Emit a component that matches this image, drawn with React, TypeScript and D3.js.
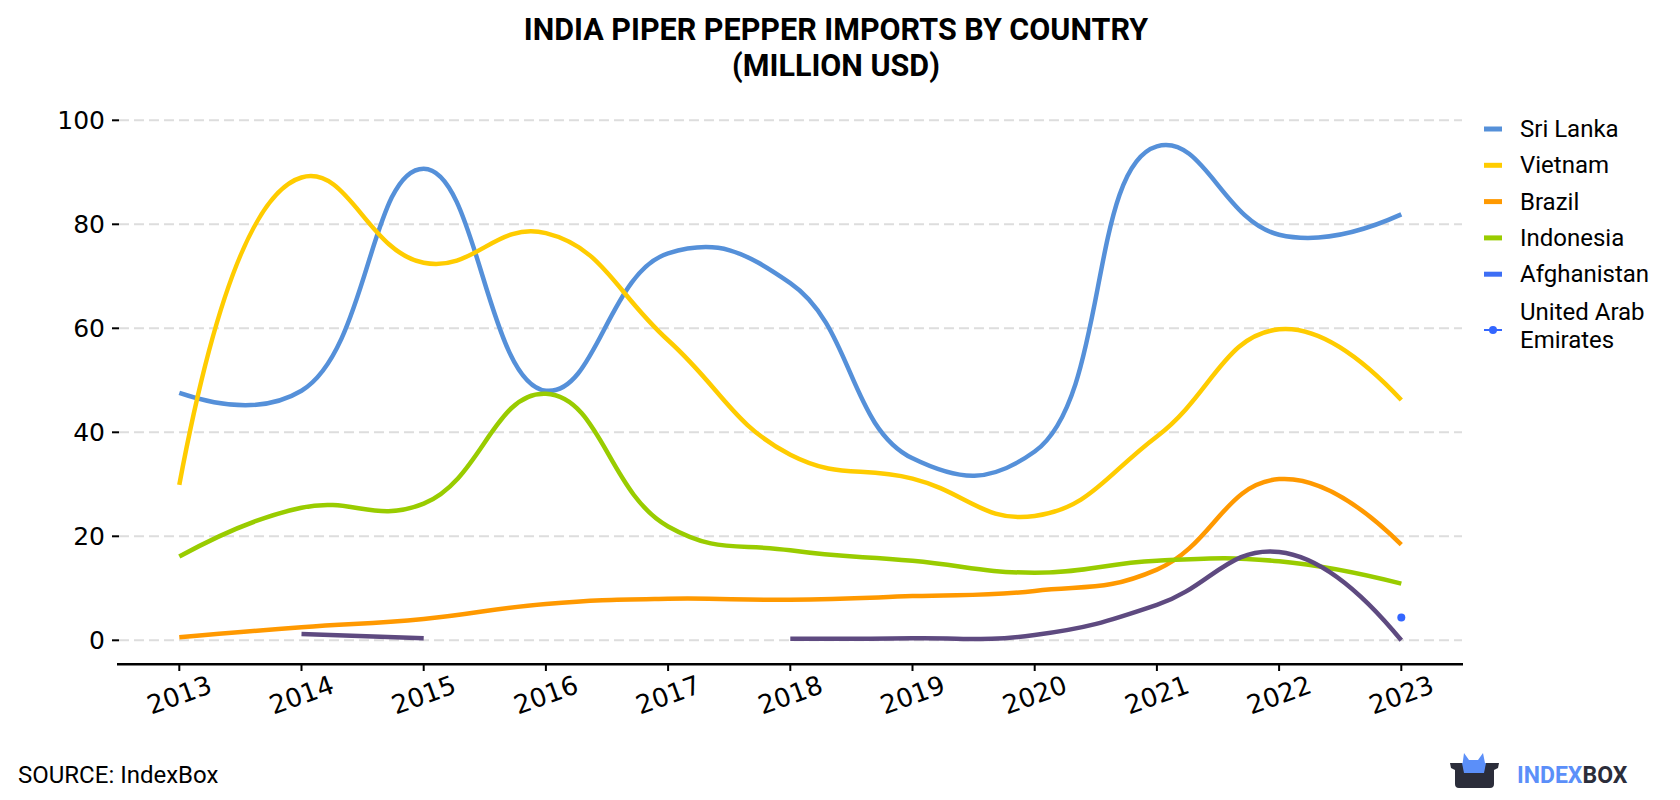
import React from 'react';
import * as d3 from 'd3';

const years = [2013, 2014, 2015, 2016, 2017, 2018, 2019, 2020, 2021, 2022, 2023];

const sriLanka = [47.6, 48, 90.7, 48, 74.4, 68.7, 35, 36.3, 95, 78, 81.9];
const vietnam = [29.9, 89, 72.6, 78.3, 57.7, 35.7, 31.1, 23.9, 39.2, 59.8, 46.2];
const brazil = [0.6, 2.5, 4.1, 7, 8.0, 7.8, 8.5, 9.5, 13.6, 31, 18.4];
const indonesia = [16.1, 25.5, 26.3, 47.4, 21.9, 17.3, 15.3, 13, 15.3, 15.2, 10.9];
const afghanistan: (number | null)[] = [null, 1.2, 0.4, null, null, 0.3, 0.4, 1.0, 6.8, 17, 0];
const uae: (number | null)[] = [null, null, null, null, null, null, null, null, null, null, 4.4];

const yTicks = [0, 20, 40, 60, 80, 100];

const series = [
  { name: 'Sri Lanka', values: sriLanka, color: '#5590d9', legend: '#5590d9' },
  { name: 'Vietnam', values: vietnam, color: '#ffcc00', legend: '#ffcc00' },
  { name: 'Brazil', values: brazil, color: '#ff9900', legend: '#ff9900' },
  { name: 'Indonesia', values: indonesia, color: '#99cc00', legend: '#99cc00' },
  { name: 'Afghanistan', values: afghanistan, color: '#5e4a80', legend: '#3d6ef5' },
];

const W = 1680;
const H = 800;

const x = d3.scaleLinear().domain([2013, 2023]).range([179.3, 1401.3]);
const y = d3.scaleLinear().domain([0, 100]).range([640.3, 120.3]);

// spline like the one in the source chart: centripetal tangents, quadratic ends
const splineCurve = (smoothness: number) => (context: any) => {
  let pts: [number, number][] = [];
  const tangent = (p: number[], c: number[], n: number[]) => {
    const d1x = p[0] - c[0], d1y = p[1] - c[1];
    const d2x = n[0] - c[0], d2y = n[1] - c[1];
    const d1a = Math.pow(d1x * d1x + d1y * d1y, 0.25);
    const d2a = Math.pow(d2x * d2x + d2y * d2y, 0.25);
    const numx = (d2a * d2a * d1x - d1a * d1a * d2x) * smoothness;
    const numy = (d2a * d2a * d1y - d1a * d1a * d2y) * smoothness;
    const den1 = 3 * d2a * (d1a + d2a);
    const den2 = 3 * d1a * (d1a + d2a);
    return [
      [c[0] + (den1 && numx / den1), c[1] + (den1 && numy / den1)],
      [c[0] - (den2 && numx / den2), c[1] - (den2 && numy / den2)],
    ];
  };
  return {
    areaStart() {},
    areaEnd() {},
    lineStart() {
      pts = [];
    },
    point(px: number, py: number) {
      pts.push([px, py]);
    },
    lineEnd() {
      if (!pts.length) return;
      context.moveTo(pts[0][0], pts[0][1]);
      if (pts.length < 3) {
        for (let i = 1; i < pts.length; i++) context.lineTo(pts[i][0], pts[i][1]);
        return;
      }
      const t: number[][][] = [];
      for (let i = 1; i < pts.length - 1; i++) t.push(tangent(pts[i - 1], pts[i], pts[i + 1]));
      context.quadraticCurveTo(t[0][0][0], t[0][0][1], pts[1][0], pts[1][1]);
      for (let i = 2; i < pts.length - 1; i++) {
        context.bezierCurveTo(t[i - 2][1][0], t[i - 2][1][1], t[i - 1][0][0], t[i - 1][0][1], pts[i][0], pts[i][1]);
      }
      const last = t[pts.length - 3][1];
      context.quadraticCurveTo(last[0], last[1], pts[pts.length - 1][0], pts[pts.length - 1][1]);
    },
  };
};

const line = d3
  .line<number | null>()
  .defined((d) => d != null)
  .x((_, i) => x(years[i]))
  .y((d) => y(d as number))
  .curve(splineCurve(1.3) as any);

const tickFont = '"DejaVu Sans", sans-serif';
const textFont = 'Roboto, sans-serif';

const App: React.FC = () => {
  return (
    <svg width={W} height={H} style={{ position: 'absolute', left: 0, top: 0, background: '#fff' }}>
      <text x={836} y={40} textAnchor="middle" fontFamily={textFont} fontWeight="bold" fontSize={30.5}>
        INDIA PIPER PEPPER IMPORTS BY COUNTRY
      </text>
      <text x={836} y={76} textAnchor="middle" fontFamily={textFont} fontWeight="bold" fontSize={30.5}>
        (MILLION USD)
      </text>

      {/* grid + y axis */}
      <g>
        {yTicks.map((t) => (
          <g key={t}>
            <line x1={119} x2={1462} y1={y(t)} y2={y(t)} stroke="#dddddd" strokeWidth={2} strokeDasharray="10,5" />
            <line x1={112} x2={119} y1={y(t)} y2={y(t)} stroke="#000" strokeWidth={2} />
            <text x={105} y={y(t)} textAnchor="end" dominantBaseline="central" fontFamily={tickFont} fontSize={25}>
              {t}
            </text>
          </g>
        ))}
      </g>

      {/* x axis */}
      <g>
        <line x1={117} x2={1463} y1={664.3} y2={664.3} stroke="#000" strokeWidth={2.5} />
        {years.map((yr) => (
          <g key={yr}>
            <line x1={x(yr)} x2={x(yr)} y1={664.3} y2={671} stroke="#000" strokeWidth={2} />
            <text
              transform={`translate(${x(yr)}, 695) rotate(-20)`}
              textAnchor="middle"
              dominantBaseline="central"
              fontFamily={tickFont}
              fontSize={26}
            >
              {yr}
            </text>
          </g>
        ))}
      </g>

      {/* lines */}
      <g fill="none" strokeWidth={4.5} strokeLinejoin="round">
        {series.map((s) => (
          <path key={s.name} d={line(s.values) || ''} stroke={s.color} />
        ))}
      </g>
      {uae.map((v, i) =>
        v == null ? null : <circle key={i} cx={x(years[i])} cy={y(v)} r={4} fill="#3366ff" />
      )}

      {/* legend */}
      <g fontFamily={textFont} fontSize={24}>
        {series.map((s, i) => (
          <g key={s.name} transform={`translate(0, ${129 + i * 36.3})`}>
            <line x1={1484} x2={1502} y1={0} y2={0} stroke={s.legend} strokeWidth={5} />
            <text x={1520} y={0} dominantBaseline="central">
              {s.name}
            </text>
          </g>
        ))}
        <g>
          <line x1={1484} x2={1502} y1={330} y2={330} stroke="#3366ff" strokeWidth={2} />
          <circle cx={1493} cy={330} r={4} fill="#3366ff" />
          <text x={1520} y={312} dominantBaseline="central">United Arab</text>
          <text x={1520} y={340} dominantBaseline="central">Emirates</text>
        </g>
      </g>

      {/* source */}
      <text x={18} y={783} fontFamily={textFont} fontSize={24} fill="#000">
        SOURCE: IndexBox
      </text>

      {/* logo */}
      <g>
        <path d="M1462,768 L1464,753 L1469,760 L1478,760 L1483,753 L1486,768 Z" fill="#5b8ff9" />
        <path
          d="M1450,763 L1499,763 L1498,768 L1494,770 L1494,784 Q1494,788 1490,788 L1459,788 Q1455,788 1455,784 L1455,770 L1451,768 Z"
          fill="#2b2d3a"
        />
        <path d="M1462,763 L1486,763 L1484,773 L1464,773 Z" fill="#5b8ff9" />
        <text x={1517} y={783} fontFamily={textFont} fontWeight="bold" fontSize={23}>
          <tspan fill="#5b8ff9">INDEX</tspan>
          <tspan fill="#2b2d3a">BOX</tspan>
        </text>
      </g>
    </svg>
  );
};

export default App;
